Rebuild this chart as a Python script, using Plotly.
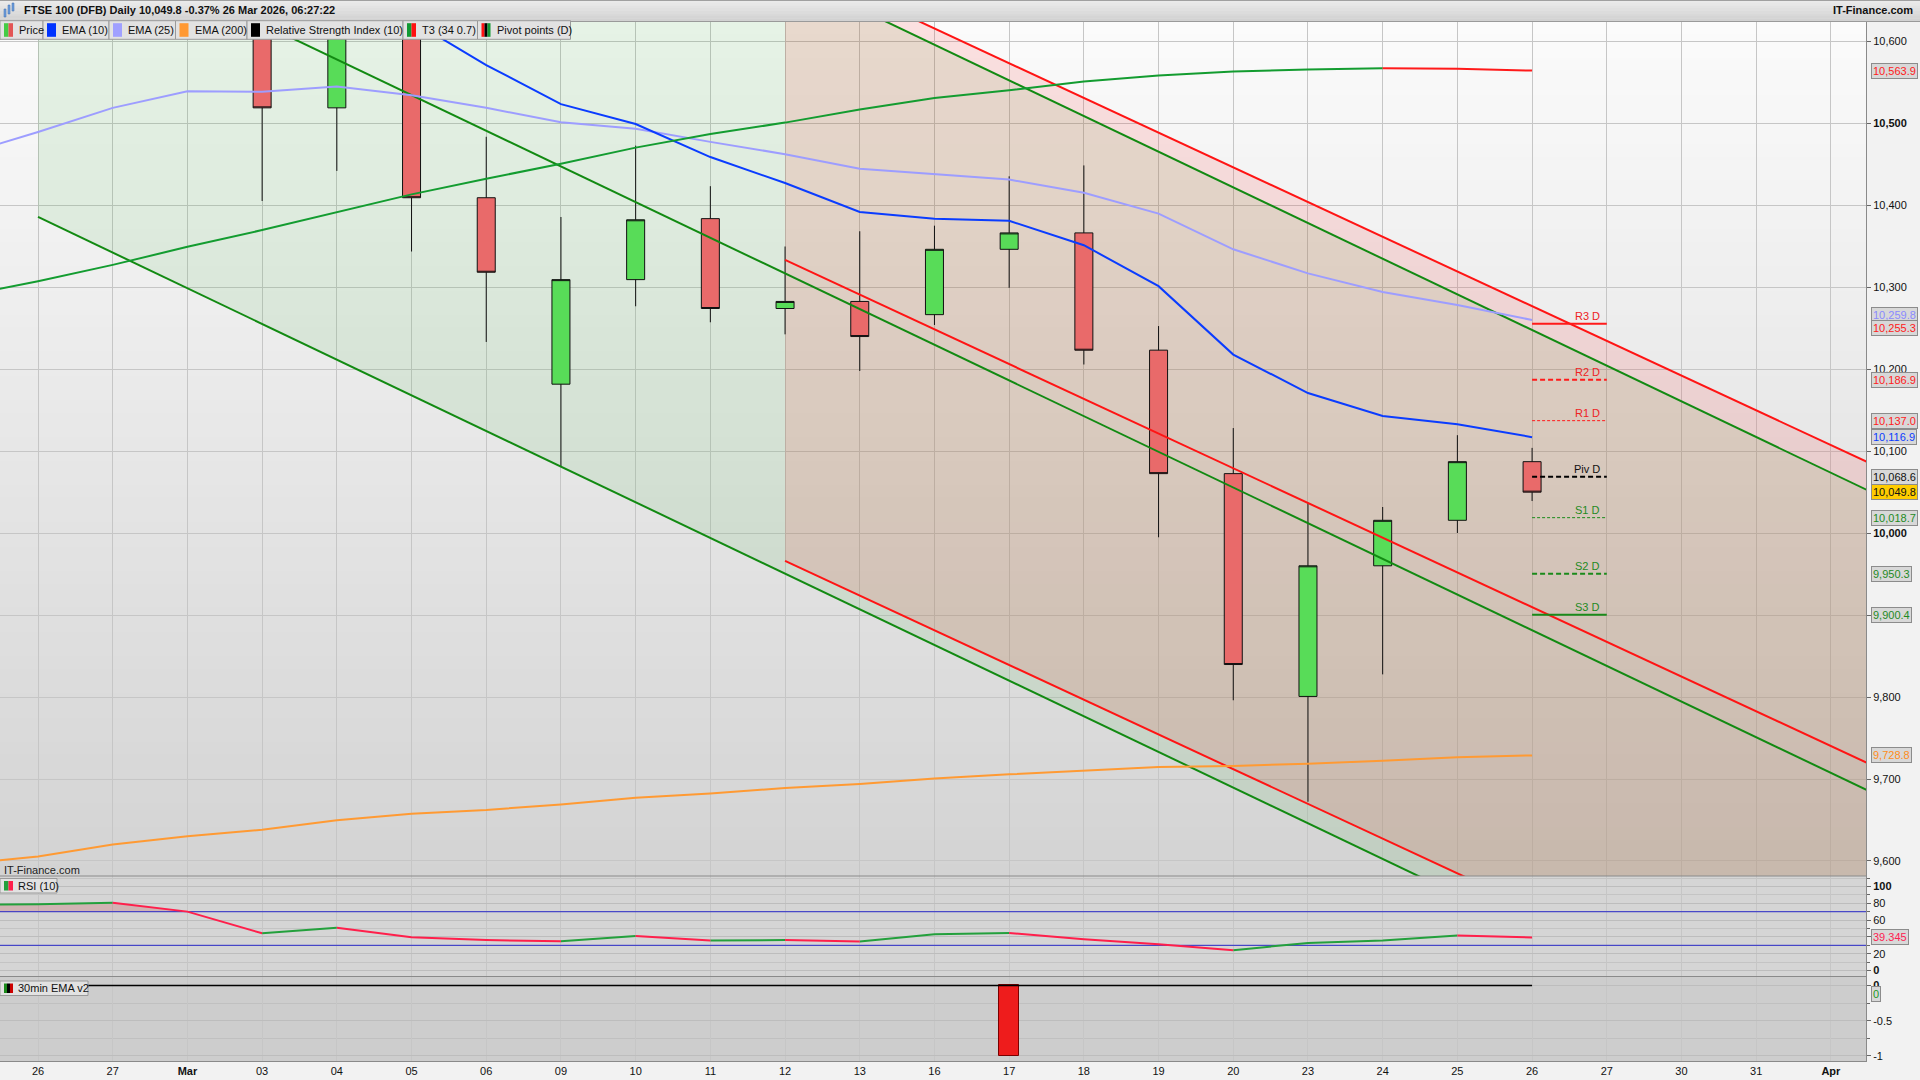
import numpy as np
import plotly.graph_objects as go

FONT = "Liberation Sans"

# ---------------- data ----------------
sessions = ["Feb 25", "Feb 26", "Feb 27", "Mar 02", "Mar 03", "Mar 04", "Mar 05", "Mar 06",
            "Mar 09", "Mar 10", "Mar 11", "Mar 12", "Mar 13", "Mar 16", "Mar 17", "Mar 18",
            "Mar 19", "Mar 20", "Mar 23", "Mar 24", "Mar 25", "Mar 26", "Mar 27", "Mar 30",
            "Mar 31", "Apr 01"]
x_tick_labels = ["26", "27", "Mar", "03", "04", "05", "06", "09", "10", "11", "12", "13",
                 "16", "17", "18", "19", "20", "23", "24", "25", "26", "27", "30", "31", "Apr"]
bold_ticks = ["Mar", "Apr"]

candle_sessions = sessions[1:22]
opens = [10790, 10830, 10890, 10730, 10518.5, 10660, 10408.9, 10181.5, 10309, 10383.4, 10273.8,
         10282.4, 10266.3, 10346, 10366, 10223, 10072.4, 9800.7, 9960, 10015.5, 10087]
highs = [10850, 10905, 10920, 10745, 10690, 10675, 10483.2, 10385.4, 10472.4, 10423, 10349.4,
         10368, 10374.8, 10435, 10448.3, 10252.4, 10128, 10037, 10031.7, 10119.3, 10103.8]
lows = [10745, 10800, 10700, 10404.9, 10441.6, 10343.3, 10233, 10080.5, 10276.5, 10257, 10242.3,
        10197.6, 10253.7, 10299, 10205.5, 9994.8, 9796, 9672.3, 9827.6, 10000, 10039]
closes = [10830, 10890, 10730, 10518.5, 10660, 10408.9, 10318, 10309, 10382, 10273.8, 10282.4,
          10239.6, 10346, 10366, 10222.9, 10072.4, 9839.6, 9960, 10015.5, 10087, 10049.8]

line_sessions = sessions[0:22]
ema10 = [10735, 10728, 10718, 10700, 10678, 10652, 10625, 10570.7, 10523, 10498.8, 10458.5,
         10426.8, 10391.5, 10383.4, 10380.7, 10351, 10301, 10217.6, 10170.7, 10142.7, 10132.6, 10116.9]
ema25 = [10461.5, 10489, 10518.5, 10538.7, 10538, 10544.6, 10534, 10518.5, 10501, 10493, 10477,
         10462, 10444.3, 10437.3, 10431, 10415, 10389.5, 10346, 10316.6, 10294, 10278, 10259.8]
ema200 = [9596.3, 9605.4, 9620, 9630.2, 9638.2, 9649.6, 9657.6, 9662.2, 9669, 9677, 9682.3,
          9689, 9694, 9700.5, 9705.7, 9710.5, 9714.6, 9716, 9718.5, 9722.4, 9726.5, 9728.8]
t3 = [10289, 10307, 10327, 10349, 10369.5, 10391, 10413, 10432, 10450.4, 10470, 10486.6,
      10500.5, 10516.6, 10530.6, 10540, 10550.7, 10558, 10562.7, 10565.4, 10566.7, 10566.3, 10563.9]
rsi10 = [78.5, 78.8, 80.7, 70.1, 44.3, 51, 39.5, 36.3, 34.8, 41, 35.8, 36.3, 34.4, 43.1, 44.6,
         37.3, 31.4, 24.2, 32.9, 35.8, 41.7, 39.345]
rsi_levels = [70, 30]
ema30m_v2 = [0, 0, 0, 0, 0, 0, 0, 0, 0, 0, 0, 0, 0, 0, -1, 0, 0, 0, 0, 0, 0, 0]

pivot_names = ["R3 D", "R2 D", "R1 D", "Piv D", "S1 D", "S2 D", "S3 D"]
pivot_values = [10255.3, 10186.9, 10137.0, 10068.6, 10018.7, 9950.3, 9900.4]
pivot_span = ["Mar 26", "Mar 27"]

channel_start = ["Feb 26", "Mar 12"]
channel_mid_at_start = [10751.5, 10333.0]
channel_slope = [-43.5, -42.34]      # points per session
channel_half_width = [366.0, 367.0]

# ---------------- helpers ----------------
pos = {s: i - 1 for i, s in enumerate(sessions)}
cx = [pos[s] for s in candle_sessions]
lx = [pos[s] for s in line_sessions]

PLOT_W, PLOT_H, TOP = 1866.0, 1039.0, 22.0


def PX(x):
    return x / PLOT_W


def PY(y):
    return 1 - (y - TOP) / PLOT_H


def runs(xs, ys):
    ux, uy, dx, dy = [], [], [], []
    for a in range(len(xs) - 1):
        tx, ty = (ux, uy) if ys[a + 1] > ys[a] else (dx, dy)
        if tx and tx[-1] == xs[a]:
            tx.append(xs[a + 1]); ty.append(ys[a + 1])
        else:
            if tx:
                tx.append(None); ty.append(None)
            tx += [xs[a], xs[a + 1]]; ty += [ys[a], ys[a + 1]]
    return ux, uy, dx, dy


X_RANGE = [-0.509, 24.47]
X_END = 25.0

fig = go.Figure()

# ---- candles ----
fig.add_trace(go.Candlestick(
    x=cx, open=opens, high=highs, low=lows, close=closes,
    increasing=dict(fillcolor="#58dc58", line=dict(color="#111111", width=1)),
    decreasing=dict(fillcolor="#e96a6a", line=dict(color="#111111", width=1)),
    whiskerwidth=0, hoverinfo="skip", showlegend=False, xaxis="x", yaxis="y"))

# ---- channel lines ----
ch_colors = ["#128a12", "#ff1414"]
for k in range(len(channel_start)):
    xs = pos[channel_start[k]]
    for off in (1, 0, -1):
        y0 = channel_mid_at_start[k] + off * channel_half_width[k]
        y1 = y0 + channel_slope[k] * (X_END - xs)
        fig.add_trace(go.Scatter(x=[xs, X_END], y=[y0, y1], mode="lines",
                                 line=dict(color=ch_colors[k], width=2),
                                 hoverinfo="skip", showlegend=False, yaxis="y"))

# ---- EMAs ----
fig.add_trace(go.Scatter(x=lx, y=ema200, mode="lines", line=dict(color="#ff9a33", width=2),
                         hoverinfo="skip", showlegend=False, yaxis="y"))
fig.add_trace(go.Scatter(x=lx, y=ema25, mode="lines", line=dict(color="#9d9dff", width=2),
                         hoverinfo="skip", showlegend=False, yaxis="y"))
fig.add_trace(go.Scatter(x=lx, y=ema10, mode="lines", line=dict(color="#0a3cff", width=2),
                         hoverinfo="skip", showlegend=False, yaxis="y"))
ux, uy, dx, dy = runs(lx, t3)
fig.add_trace(go.Scatter(x=ux, y=uy, mode="lines", line=dict(color="#139c30", width=2),
                         hoverinfo="skip", showlegend=False, yaxis="y"))
fig.add_trace(go.Scatter(x=dx, y=dy, mode="lines", line=dict(color="#ff1a1a", width=2),
                         hoverinfo="skip", showlegend=False, yaxis="y"))

# ---- pivots ----
piv_styles = [("#ff1a1a", 2, "solid"), ("#ff1a1a", 2, "5px,3px"), ("#ff1a1a", 1, "3px,2px"),
              ("#000000", 2, "5px,3px"), ("#1a8a1a", 1, "3px,2px"), ("#1a8a1a", 2, "5px,3px"),
              ("#1a8a1a", 2, "solid")]
piv_label_colors = ["#ee2222", "#ee2222", "#ee2222", "#111111", "#1f8a1f", "#1f8a1f", "#1f8a1f"]
px0, px1 = pos[pivot_span[0]], pos[pivot_span[1]]
for v, (c, w, d) in zip(pivot_values, piv_styles):
    fig.add_trace(go.Scatter(x=[px0, px1], y=[v, v], mode="lines",
                             line=dict(color=c, width=w, dash=d),
                             hoverinfo="skip", showlegend=False, yaxis="y"))

# ---- RSI ----
fx, fy = [], []
for a in range(len(lx)):
    if a > 0:
        y0r, y1r = rsi10[a - 1], rsi10[a]
        lvl = rsi_levels[0]
        if (y0r - lvl) * (y1r - lvl) < 0:
            t = (lvl - y0r) / (y1r - y0r)
            fx.append(lx[a - 1] + t * (lx[a] - lx[a - 1])); fy.append(lvl)
    fx.append(lx[a]); fy.append(max(rsi10[a], rsi_levels[0]))
fig.add_trace(go.Scatter(x=fx, y=[rsi_levels[0]] * len(fx), mode="lines", line=dict(width=0),
                         hoverinfo="skip", showlegend=False, yaxis="y2"))
fig.add_trace(go.Scatter(x=fx, y=fy, mode="lines", line=dict(width=0), fill="tonexty",
                         fillcolor="rgba(190,60,60,0.22)",
                         hoverinfo="skip", showlegend=False, yaxis="y2"))
for lvl in rsi_levels:
    fig.add_trace(go.Scatter(x=[X_RANGE[0] - 1, X_END], y=[lvl, lvl], mode="lines",
                             line=dict(color="#2a2ac8", width=1),
                             hoverinfo="skip", showlegend=False, yaxis="y2"))
ux, uy, dx, dy = runs(lx, rsi10)
fig.add_trace(go.Scatter(x=ux, y=uy, mode="lines", line=dict(color="#23a03c", width=2),
                         hoverinfo="skip", showlegend=False, yaxis="y2"))
fig.add_trace(go.Scatter(x=dx, y=dy, mode="lines", line=dict(color="#ff1f4b", width=2),
                         hoverinfo="skip", showlegend=False, yaxis="y2"))

# ---- 30min EMA v2 ----
fig.add_trace(go.Bar(x=lx, y=ema30m_v2, width=0.27,
                     marker=dict(color=["#ee1c1c" if v < 0 else "#22aa22" for v in ema30m_v2],
                                 line=dict(color="#7a0000",
                                           width=[1 if v != 0 else 0 for v in ema30m_v2])),
                     hoverinfo="skip", showlegend=False, yaxis="y3"))
fig.add_trace(go.Scatter(x=lx, y=np.zeros(len(lx)), mode="lines", line=dict(color="#000000", width=1.5),
                         hoverinfo="skip", showlegend=False, yaxis="y3"))

# ---------------- shapes ----------------
shapes = []
N = 70
top_c, bot_c = 251, 211
for k in range(N):
    t = (k + 0.5) / N
    c = int(round(bot_c + (top_c - bot_c) * t))
    shapes.append(dict(type="rect", xref="x domain", yref="y domain", x0=0, x1=1,
                       y0=k / N, y1=(k + 1) / N + 0.002, fillcolor=f"rgb({c},{c},{c})",
                       line=dict(width=0), layer="below"))
shapes.append(dict(type="rect", xref="x domain", yref="y3 domain", x0=0, x1=1, y0=0, y1=1,
                   fillcolor="#cdcdcd", line=dict(width=0), layer="below"))

ch_fills = ["rgba(20,170,20,0.09)", "rgba(255,0,0,0.105)"]
for k in range(len(channel_start)):
    xs = pos[channel_start[k]]
    m0 = channel_mid_at_start[k]
    m1 = m0 + channel_slope[k] * (X_END - xs)
    hw = channel_half_width[k]
    path = (f"M {xs},{m0 + hw} L {X_END},{m1 + hw} L {X_END},{m1 - hw} "
            f"L {xs},{m0 - hw} Z")
    shapes.append(dict(type="path", xref="x", yref="y", path=path, fillcolor=ch_fills[k],
                       line=dict(width=0), layer="between"))

# panel separator
shapes.append(dict(type="line", xref="paper", yref="paper", x0=0, x1=1, y0=PY(876), y1=PY(876),
                   line=dict(color="#8a8a8a", width=1), layer="above"))

# header bar
HB = 8
for k in range(HB):
    y_a = k * 21.0 / HB
    y_b = (k + 1) * 21.0 / HB
    c = int(round(236 - (236 - 208) * (k + 0.5) / HB))
    shapes.append(dict(type="rect", xref="paper", yref="paper", x0=0, x1=PX(1920),
                       y0=PY(y_b + 0.3), y1=PY(y_a), fillcolor=f"rgb({c},{c},{c})",
                       line=dict(width=0), layer="above"))
shapes.append(dict(type="line", xref="paper", yref="paper", x0=0, x1=PX(1920), y0=PY(21.5), y1=PY(21.5),
                   line=dict(color="#9a9a9a", width=1), layer="above"))
shapes.append(dict(type="line", xref="paper", yref="paper", x0=0, x1=PX(1920), y0=PY(0.5), y1=PY(0.5),
                   line=dict(color="#a0a0a0", width=1), layer="above"))
# header icon
for (x0, x1, y0, y1) in [(4, 6, 9, 17), (8, 10, 5, 14), (12, 14, 3, 11)]:
    shapes.append(dict(type="rect", xref="paper", yref="paper", x0=PX(x0), x1=PX(x1),
                       y0=PY(y1), y1=PY(y0), fillcolor="#6f9fdc", line=dict(color="#3d6fb0", width=0.5),
                       layer="above"))

annotations = []

# legend row
legend_items = [("Price", 0, 43, ["#44cc44", "#e35555"]),
                ("EMA (10)", 43, 109, ["#0033ff"]),
                ("EMA (25)", 109, 175.5, ["#a0a0ff"]),
                ("EMA (200)", 175.5, 247, ["#ff9933"]),
                ("Relative Strength Index (10)", 247, 403, ["#000000"]),
                ("T3 (34 0.7)", 403, 477.5, ["#119933", "#ff1111"]),
                ("Pivot points (D)", 477.5, 570.5, ["#ff1111", "#000000", "#119933"])]


def label_box(text, left, right, top, bottom, colors, text_dx=17):
    shapes.append(dict(type="rect", xref="paper", yref="paper", x0=PX(left), x1=PX(right),
                       y0=PY(bottom), y1=PY(top), fillcolor="#e2e2e2",
                       line=dict(color="#9a9a9a", width=1), layer="above"))
    n = len(colors)
    w = 9.0 / n
    for j, c in enumerate(colors):
        shapes.append(dict(type="rect", xref="paper", yref="paper",
                           x0=PX(left + 4 + j * w), x1=PX(left + 4 + (j + 1) * w),
                           y0=PY(bottom - 2.5), y1=PY(top + 2.5), fillcolor=c,
                           line=dict(width=0), layer="above"))
    annotations.append(dict(text=text, xref="paper", yref="paper", x=PX(left + text_dx),
                            y=PY((top + bottom) / 2), xanchor="left", yanchor="middle",
                            showarrow=False, font=dict(family=FONT, size=11, color="#111111")))


for name, l, r, cols in legend_items:
    label_box(name, l, r, 20.7, 39.3, cols)
label_box("RSI (10)", 0, 57, 878.5, 893, ["#23a03c", "#ff1f4b"], text_dx=16)
label_box("30min EMA v2", 0, 88, 981, 995.5, ["#1b8a1b", "#000000", "#cc0000"], text_dx=16)

# header texts
chg = (closes[-1] / closes[-2] - 1) * 100
title = f"<b>FTSE 100 (DFB) Daily {closes[-1]:,.1f} {chg:+.2f}% 26 Mar 2026, 06:27:22</b>"
annotations.append(dict(text=title, xref="paper", yref="paper", x=PX(22), y=PY(10.5),
                        xanchor="left", yanchor="middle", showarrow=False,
                        font=dict(family=FONT, size=11, color="#111111")))
annotations.append(dict(text="<b>IT-Finance.com</b>", xref="paper", yref="paper", x=PX(1915),
                        y=PY(10.5), xanchor="right", yanchor="middle", showarrow=False,
                        font=dict(family=FONT, size=11, color="#111111")))
annotations.append(dict(text="IT-Finance.com", xref="paper", yref="paper", x=PX(2), y=PY(869.5),
                        xanchor="left", yanchor="middle", showarrow=False,
                        font=dict(family=FONT, size=11, color="#222222")))

# pivot labels
for name, v, c in zip(pivot_names, pivot_values, piv_label_colors):
    annotations.append(dict(text=name, xref="x", yref="y", x=px1, y=v, xanchor="right",
                            yanchor="bottom", xshift=-5, yshift=0, showarrow=False,
                            font=dict(family=FONT, size=11, color=c)))

# value tags
tags = [(t3[-1], "y", "#ff2020", "#d8d8d8", 0, "{:,.1f}"),
        (ema25[-1], "y", "#8a8aff", "#d8d8d8", 5, "{:,.1f}"),
        (pivot_values[0], "y", "#ff2020", "#d8d8d8", -4.5, "{:,.1f}"),
        (pivot_values[1], "y", "#ff2020", "#d8d8d8", 0, "{:,.1f}"),
        (pivot_values[2], "y", "#ff2020", "#d8d8d8", 0, "{:,.1f}"),
        (ema10[-1], "y", "#0a3cff", "#d8d8d8", 0, "{:,.1f}"),
        (pivot_values[3], "y", "#111111", "#d8d8d8", 0, "{:,.1f}"),
        (closes[-1], "y", "#111111", "#ffcc00", 0, "{:,.1f}"),
        (pivot_values[4], "y", "#1f8a1f", "#d8d8d8", 0, "{:,.1f}"),
        (pivot_values[5], "y", "#1f8a1f", "#d8d8d8", 0, "{:,.1f}"),
        (pivot_values[6], "y", "#1f8a1f", "#d8d8d8", 0, "{:,.1f}"),
        (ema200[-1], "y", "#ff8c1a", "#d8d8d8", 0, "{:,.1f}"),
        (rsi10[-1], "y2", "#ff2050", "#d8d8d8", 0, "{:.3f}"),
        (ema30m_v2[-1], "y3", "#1f9a1f", "#d8d8d8", -9, "{:g}")]
for v, yr, c, bg, ys, fmt in tags:
    annotations.append(dict(text=fmt.format(v), xref="paper", yref=yr, x=1, y=v,
                            xanchor="left", yanchor="middle", xshift=5, yshift=ys,
                            showarrow=False, bgcolor=bg, bordercolor="#8c8c8c", borderwidth=1,
                            borderpad=1, font=dict(family=FONT, size=11, color=c)))

# ---------------- layout ----------------
main_ticks = list(range(9600, 10700, 100))
hidden_main = [9900]           # covered by a value tag in the reference
main_text = ["" if v in hidden_main else (f"<b>{v:,}</b>" if v % 500 == 0 else f"{v:,}")
             for v in main_ticks]
x_text = [f"<b>{t}</b>" if t in bold_ticks else t for t in x_tick_labels]

D1 = PY(876)
D2 = PY(977)
GRID = "#c6c6c6"
tickfont = dict(family=FONT, size=11, color="#111111")

fig.update_layout(
    width=1920, height=1080, autosize=False,
    margin=dict(l=0, r=54, t=22, b=19, pad=0),
    paper_bgcolor="#f2f2f2", plot_bgcolor="#d5d5d5",
    showlegend=False, boxgap=0.5, boxgroupgap=0.518, bargap=0,
    font=dict(family=FONT, size=11, color="#111111"),
    xaxis=dict(range=X_RANGE, tickvals=list(range(len(x_tick_labels))), ticktext=x_text,
               showgrid=True, gridcolor=GRID, gridwidth=1, zeroline=False, anchor="y3",
               showline=True, linecolor="#8a8a8a", mirror=True, ticks="", tickfont=tickfont,
               rangeslider=dict(visible=False), fixedrange=True),
    yaxis=dict(domain=[D1, 1], range=[9581.7, 10623.2], side="right", anchor="x",
               tickvals=main_ticks, ticktext=main_text, showgrid=True, gridcolor=GRID,
               zeroline=False, ticks="outside", ticklen=4, tickcolor="#666666",
               showline=True, linecolor="#8a8a8a", mirror=True, tickfont=tickfont),
    yaxis2=dict(domain=[D2, D1], range=[-7.7, 112.5], side="right", anchor="x",
                tickvals=[0, 20, 40, 60, 80, 100],
                ticktext=["<b>0</b>", "20", "", "60", "80", "<b>100</b>"],
                showgrid=True, gridcolor="#bdbdbd", zeroline=False, ticks="outside", ticklen=4,
                tickcolor="#666666", showline=True, linecolor="#8a8a8a", mirror=True,
                tickfont=tickfont,
                minor=dict(dtick=10, tick0=0, showgrid=True, gridcolor="#c4c4c4", ticks="outside",
                           ticklen=3, tickcolor="#666666")),
    yaxis3=dict(domain=[0, D2], range=[-1.071, 0.12], side="right", anchor="x",
                tickvals=[0, -0.5, -1], ticktext=["<b>0</b>", "-0.5", "-1"],
                showgrid=True, gridcolor="#bdbdbd", zeroline=False, ticks="outside", ticklen=4,
                tickcolor="#666666", showline=True, linecolor="#8a8a8a", mirror=True,
                tickfont=tickfont,
                minor=dict(dtick=0.25, tick0=0, showgrid=True, gridcolor="#c0c0c0", ticks="outside",
                           ticklen=3, tickcolor="#666666")),
    shapes=shapes, annotations=annotations,
)

fig.write_html("out.html", config={"displayModeBar": False},
               post_script="document.body.style.margin='0px';document.body.style.overflow='hidden';")
